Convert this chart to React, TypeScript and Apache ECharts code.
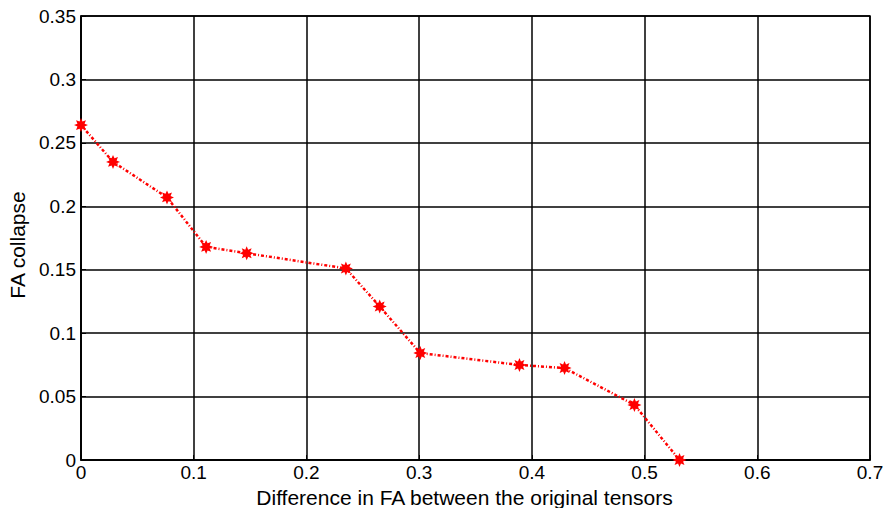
import React, { useEffect, useRef } from "react";
import * as echarts from "echarts";

const xValues = [0, 0.0284, 0.0763, 0.111, 0.147, 0.235, 0.265, 0.301, 0.389, 0.429, 0.491, 0.531];
const yValues = [0.264, 0.235, 0.207, 0.168, 0.163, 0.151, 0.121, 0.0843, 0.0749, 0.0725, 0.0434, 0.0];
const xTicks = [0, 0.1, 0.2, 0.3, 0.4, 0.5, 0.6, 0.7];
const yTicks = [0, 0.05, 0.1, 0.15, 0.2, 0.25, 0.3, 0.35];

function starPath(): string {
  const pts: string[] = [];
  for (let k = 0; k < 16; k++) {
    const a = (k * Math.PI) / 8;
    const r = k % 2 === 0 ? 10 : 5.5;
    pts.push(`${(10 + r * Math.sin(a)).toFixed(2)},${(10 - r * Math.cos(a)).toFixed(2)}`);
  }
  return "path://M" + pts.join("L") + "Z";
}

export default function App() {
  const ref = useRef<HTMLDivElement>(null);
  useEffect(() => {
    if (!ref.current) return;
    const chart = echarts.init(ref.current, null, { renderer: "svg" });
    const font = "Liberation Sans, Arial, sans-serif";
    chart.setOption({
      animation: false,
      backgroundColor: "#fff",
      grid: {
        left: 81, right: 15, top: 16, bottom: 48,
        containLabel: false, outerBoundsMode: "none",
        show: true, borderColor: "#000", borderWidth: 1.5,
      },
      xAxis: {
        type: "value",
        min: xTicks[0],
        max: xTicks[xTicks.length - 1],
        interval: 0.1,
        name: "Difference in FA between the original tensors",
        nameLocation: "middle",
        nameGap: 22,
        nameTextStyle: { color: "#000", fontSize: 21, fontFamily: font, padding: [0, 22, 0, 0] },
        axisLine: { lineStyle: { color: "#000", width: 1.5 } },
        axisTick: { inside: true, length: 5, lineStyle: { color: "#000" } },
        axisLabel: { color: "#000", fontSize: 19, fontFamily: font, margin: 3, formatter: (v: number) => String(+v.toFixed(2)) },
        splitLine: { show: true, lineStyle: { color: "#000", width: 1.5 } },
      },
      yAxis: {
        type: "value",
        min: yTicks[0],
        max: yTicks[yTicks.length - 1],
        interval: 0.05,
        name: "FA collapse",
        nameLocation: "middle",
        nameGap: 49,
        nameTextStyle: { color: "#000", fontSize: 21, fontFamily: font, padding: [0, 14, 0, 0] },
        axisLine: { show: true, lineStyle: { color: "#000", width: 1.5 } },
        axisTick: { show: true, inside: true, length: 5, lineStyle: { color: "#000" } },
        axisLabel: { color: "#000", fontSize: 19, fontFamily: font, margin: 5, formatter: (v: number) => String(+v.toFixed(2)) },
        splitLine: { show: true, lineStyle: { color: "#000", width: 1.5 } },
      },
      series: [
        {
          type: "line",
          data: xValues.map((x, i) => [x, yValues[i]]),
          symbol: starPath(),
          symbolSize: 14,
          showAllSymbol: true,
          lineStyle: { color: "#ff0000", width: 2.5, type: [3, 2, 1, 2] },
          itemStyle: { color: "#ff0000" },
        },
      ],
    });
    return () => chart.dispose();
  }, []);
  return <div ref={ref} style={{ width: 885, height: 508, position: "absolute", left: 0, top: 0 }} />;
}
